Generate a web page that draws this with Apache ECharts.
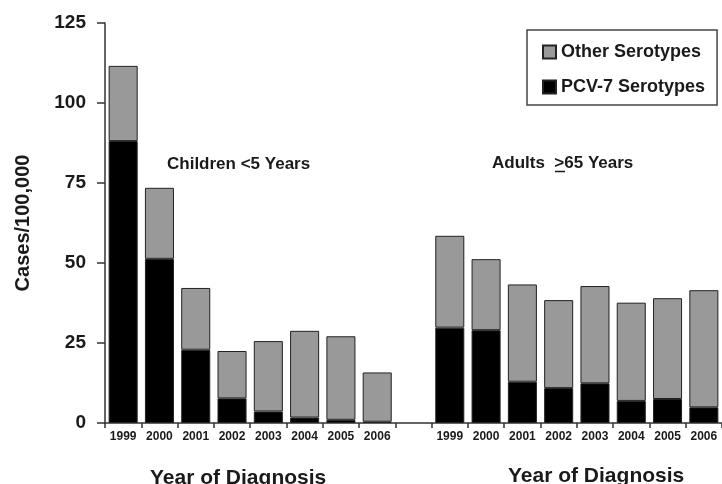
<!DOCTYPE html>
<html lang="en">
<head>
    <meta charset="UTF-8">
    <title>Cases/100,000 by year of diagnosis</title>
    <style>
        html, body { margin: 0; padding: 0; background: #fff; }
        #container { width: 722px; height: 484px; }
    </style>
</head>
<body>
<div id="container"></div>
<script src="https://cdn.jsdelivr.net/npm/echarts@6/dist/echarts.min.js"></script>
<script type="text/javascript">
    // two age groups, same years, one empty category between them
    var years = ['1999', '2000', '2001', '2002', '2003', '2004', '2005', '2006'];
    var childTotal = [111.6, 73.5, 42.2, 22.5, 25.6, 28.8, 27.1, 15.8];
    var childPcv7 = [88.1, 51.3, 22.9, 7.7, 3.6, 1.7, 1.0, 0.4];
    var adultTotal = [58.5, 51.2, 43.3, 38.4, 42.8, 37.6, 39.0, 41.5];
    var adultPcv7 = [29.8, 29.0, 12.9, 10.9, 12.4, 6.9, 7.5, 4.9];
    var yTicks = [0, 25, 50, 75, 100, 125];

    var font = '"Liberation Sans", Arial, Helvetica, sans-serif';
    var categories = years.concat(['']).concat(years);
    var pcv7 = childPcv7.concat(['-']).concat(adultPcv7);
    var other = childTotal.map(function (t, i) { return +(t - childPcv7[i]).toFixed(1); })
        .concat(['-'])
        .concat(adultTotal.map(function (t, i) { return +(t - adultPcv7[i]).toFixed(1); }));

    var chart = echarts.init(document.getElementById('container'), null, {renderer: 'canvas'});
    var option = {
        animation: false,
        textStyle: {fontFamily: font},
        grid: {left: 105, top: 23, right: -3, bottom: 61, containLabel: false},
        legend: {
            orient: 'vertical',
            left: 527,
            top: 30,
            data: ['Other Serotypes', 'PCV-7 Serotypes'],
            icon: 'rect',
            itemWidth: 13,
            itemHeight: 13,
            itemGap: 17,
            padding: [13, 12, 9, 15],
            borderColor: '#444',
            borderWidth: 1.5,
            textStyle: {fontFamily: font, fontWeight: 'bold', fontSize: 18, color: '#1a1a1a'}
        },
        xAxis: {
            type: 'category',
            data: categories,
            axisLine: {lineStyle: {color: '#333', width: 1.5}},
            axisTick: {show: true, interval: 0, length: 5, lineStyle: {color: '#333', width: 1.5}},
            axisLabel: {interval: 0, margin: 8, fontFamily: font, fontWeight: 'bold', fontSize: 12, color: '#1a1a1a'}
        },
        yAxis: {
            type: 'value',
            min: yTicks[0],
            max: yTicks[yTicks.length - 1],
            interval: 25,
            name: 'Cases/100,000',
            nameLocation: 'middle',
            nameGap: 72,
            nameTextStyle: {fontFamily: font, fontWeight: 'bold', fontSize: 20, color: '#1a1a1a'},
            splitLine: {show: false},
            axisLine: {show: true, lineStyle: {color: '#333', width: 1.5}},
            axisTick: {show: true, length: 8, lineStyle: {color: '#333', width: 1.5}},
            axisLabel: {margin: 19, fontFamily: font, fontWeight: 'bold', fontSize: 19, color: '#1a1a1a'}
        },
        series: [
            {
                name: 'PCV-7 Serotypes',
                type: 'bar',
                stack: 'cases',
                barWidth: '80%',
                data: pcv7,
                itemStyle: {color: '#000', borderColor: '#222', borderWidth: 1}
            },
            {
                name: 'Other Serotypes',
                type: 'bar',
                stack: 'cases',
                barWidth: '80%',
                data: other,
                itemStyle: {color: '#999999', borderColor: '#222', borderWidth: 1}
            }
        ],
        graphic: [
            {
                type: 'text', left: 167, top: 156,
                style: {text: 'Children <5 Years', font: 'bold 17px ' + font, fill: '#1a1a1a'}
            },
            {
                type: 'text', left: 492, top: 155,
                style: {text: 'Adults  >65 Years', font: 'bold 17px ' + font, fill: '#1a1a1a'}
            },
            {
                type: 'line',
                shape: {x1: 555, y1: 171.5, x2: 565, y2: 171.5},
                style: {stroke: '#1a1a1a', lineWidth: 1.5}
            },
            {
                type: 'text', left: 150, top: 468,
                style: {text: 'Year of Diagnosis', font: 'bold 21px ' + font, fill: '#1a1a1a'}
            },
            {
                type: 'text', left: 508, top: 466,
                style: {text: 'Year of Diagnosis', font: 'bold 21px ' + font, fill: '#1a1a1a'}
            }
        ]
    };
    chart.setOption(option, true);
</script>
</body>
</html>
